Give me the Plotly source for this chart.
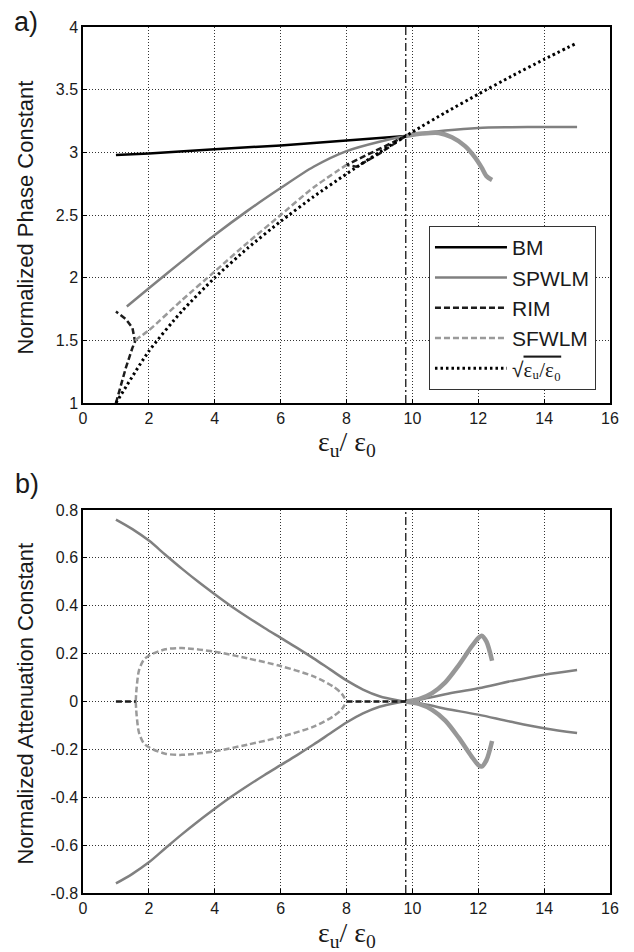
import plotly.graph_objects as go

# ---------------- data ----------------
x_ticks = [0, 2, 4, 6, 8, 10, 12, 14, 16]
phase_ticks = [1, 1.5, 2, 2.5, 3, 3.5, 4]
att_ticks = [-0.8, -0.6, -0.4, -0.2, 0, 0.2, 0.4, 0.6, 0.8]
att_tick_text = ["-0.8", "-0.6", "-0.4", "-0.2", "0", "0.2", "0.4", "0.6", "0.8"]

eps_cut = 9.8  # vertical dash-dot marker

# (a) Normalized phase constant
bm_x = [1.0, 2.0, 4.0, 6.0, 8.0, 9.8]
bm_y = [2.978, 2.99, 3.025, 3.055, 3.095, 3.13]

spwlm_x = [1.33, 2, 3, 4, 5, 6, 7, 8, 9, 9.8, 10.5, 11, 12, 13, 14, 15]
spwlm_y = [1.77, 1.915, 2.13, 2.34, 2.535, 2.715, 2.885, 3.01, 3.085, 3.13, 3.16, 3.175, 3.195, 3.2, 3.202, 3.202]

spwlm_b_x = [9.8, 10.3, 10.8, 11.2, 11.6, 11.9, 12.1, 12.25, 12.42]
spwlm_b_y = [3.13, 3.15, 3.155, 3.12, 3.05, 2.96, 2.88, 2.81, 2.78]

rim_x = [1.0, 1.3, 1.5, 1.58, 1.5, 1.3, 1.0, None, 9.8, 9.0, 8.0, 8.3, 9.0, 9.8]
rim_y = [1.0, 1.28, 1.44, 1.49, 1.6, 1.67, 1.73, None, 3.13, 3.03, 2.9, 2.885, 2.99, 3.13]

sfwlm_x = [1.58, 2, 3, 4, 5, 6, 7, 8]
sfwlm_y = [1.5, 1.58, 1.82, 2.05, 2.28, 2.5, 2.72, 2.9]

sqrt_x = [1, 2, 3, 4, 5, 6, 7, 8, 9, 10, 11, 12, 13, 14, 15]
sqrt_y = [1.0, 1.414, 1.732, 2.0, 2.236, 2.449, 2.646, 2.828, 3.0, 3.162, 3.317, 3.464, 3.606, 3.742, 3.873]

# (b) Normalized attenuation constant
spwlm_att_x = [1, 1.5, 2, 2.5, 3, 3.5, 4, 4.5, 5, 5.5, 6, 6.5, 7, 7.5, 8, 8.5, 9, 9.5, 9.8,
               10.5, 11, 12, 13, 14, 15]
spwlm_att_up = [0.76, 0.72, 0.672, 0.613, 0.555, 0.5, 0.448, 0.398, 0.352, 0.308, 0.266, 0.224,
                0.18, 0.134, 0.088, 0.05, 0.022, 0.006, 0.0,
                0.015, 0.03, 0.055, 0.085, 0.112, 0.132]
spwlm_att_lo = [-0.76, -0.72, -0.672, -0.613, -0.555, -0.5, -0.448, -0.398, -0.352, -0.308, -0.266,
                -0.224, -0.18, -0.134, -0.088, -0.05, -0.022, -0.006, 0.0,
                -0.015, -0.03, -0.055, -0.085, -0.112, -0.132]

spwlm_b_att_x = [9.8, 10.2, 10.6, 11.0, 11.4, 11.8, 12.0, 12.1, 12.25, 12.42]
spwlm_b_att_up = [0.0, 0.01, 0.035, 0.08, 0.15, 0.23, 0.265, 0.275, 0.25, 0.17]
spwlm_b_att_lo = [0.0, -0.01, -0.035, -0.08, -0.15, -0.23, -0.265, -0.272, -0.245, -0.165]

sfwlm_att_x = [1.6, 1.63, 1.7, 1.85, 2.05, 2.5, 3, 4, 5, 6, 7, 7.6, 7.86, 8.0]
sfwlm_att_up = [0.0, 0.06, 0.13, 0.175, 0.195, 0.218, 0.223, 0.208, 0.18, 0.148, 0.105, 0.062, 0.032, 0.0]
sfwlm_att_lo = [0.0, -0.06, -0.13, -0.175, -0.195, -0.218, -0.223, -0.208, -0.18, -0.148, -0.105, -0.062, -0.032, 0.0]

rim_att_x = [1.0, 1.6, None, 8.0, 9.8]
rim_att_y = [0.0, 0.0, None, 0.0, 0.0]

# ---------------- styles ----------------
C_BM = "#000000"
C_SP = "#808080"
C_SPB = "#979797"
C_RIM = "#1c1c1c"
C_SF = "#9a9a9a"
DASH = "6px,3px"
DOT = "2.5px,3px"
DASHDOT = "8px,3px,2px,3px"

SANS = "Liberation Sans, Arial, sans-serif"
SERIF = "Liberation Serif, Times New Roman, serif"


def join(xs_list, ys_list):
    xo, yo = [], []
    for i, (a, b) in enumerate(zip(xs_list, ys_list)):
        if i:
            xo.append(None)
            yo.append(None)
        xo += list(a)
        yo += list(b)
    return xo, yo


SQRT_NAME = ("√<span style=\"text-decoration:overline;font-family:Liberation Serif, DejaVu Serif\">"
             "εᵤ/ε₀</span>")

fig = go.Figure()

# ---- panel a (legend order: BM, SPWLM, RIM, SFWLM, sqrt) ----
fig.add_trace(go.Scatter(x=bm_x, y=bm_y, mode="lines", name="BM",
                         line=dict(color=C_BM, width=2.5), xaxis="x", yaxis="y"))
fig.add_trace(go.Scatter(x=spwlm_x, y=spwlm_y, mode="lines", name="SPWLM",
                         line=dict(color=C_SP, width=2.5, shape="spline", smoothing=0.8),
                         xaxis="x", yaxis="y"))
fig.add_trace(go.Scatter(x=spwlm_b_x, y=spwlm_b_y, mode="lines", name="SPWLM", showlegend=False,
                         line=dict(color=C_SPB, width=4.5, shape="spline", smoothing=0.8),
                         xaxis="x", yaxis="y"))
fig.add_trace(go.Scatter(x=rim_x, y=rim_y, mode="lines", name="RIM",
                         line=dict(color=C_RIM, width=2.5, dash=DASH), xaxis="x", yaxis="y"))
fig.add_trace(go.Scatter(x=sfwlm_x, y=sfwlm_y, mode="lines", name="SFWLM",
                         line=dict(color=C_SF, width=2.5, dash=DASH, shape="spline", smoothing=0.6),
                         xaxis="x", yaxis="y"))
fig.add_trace(go.Scatter(x=sqrt_x, y=sqrt_y, mode="lines", name=SQRT_NAME,
                         line=dict(color="#000000", width=3, dash=DOT, shape="spline", smoothing=0.6),
                         xaxis="x", yaxis="y"))
fig.add_trace(go.Scatter(x=[eps_cut, eps_cut], y=[phase_ticks[0], phase_ticks[-1]], mode="lines",
                         showlegend=False, line=dict(color="#000000", width=1.2, dash=DASHDOT),
                         xaxis="x", yaxis="y"))

# ---- panel b ----
sx, sy = join([spwlm_att_x, spwlm_att_x], [spwlm_att_up, spwlm_att_lo])
fig.add_trace(go.Scatter(x=sx, y=sy, mode="lines", showlegend=False,
                         line=dict(color=C_SP, width=2.5, shape="spline", smoothing=1.0),
                         xaxis="x2", yaxis="y2"))
bx, by = join([spwlm_b_att_x, spwlm_b_att_x], [spwlm_b_att_up, spwlm_b_att_lo])
fig.add_trace(go.Scatter(x=bx, y=by, mode="lines", showlegend=False,
                         line=dict(color=C_SPB, width=4.5, shape="spline", smoothing=0.8),
                         xaxis="x2", yaxis="y2"))
fx, fy = join([sfwlm_att_x, sfwlm_att_x], [sfwlm_att_up, sfwlm_att_lo])
fig.add_trace(go.Scatter(x=fx, y=fy, mode="lines", showlegend=False,
                         line=dict(color=C_SF, width=2.5, dash=DASH, shape="spline", smoothing=0.8),
                         xaxis="x2", yaxis="y2"))
fig.add_trace(go.Scatter(x=rim_att_x, y=rim_att_y, mode="lines", showlegend=False,
                         line=dict(color=C_RIM, width=2.5, dash=DASH), xaxis="x2", yaxis="y2"))
fig.add_trace(go.Scatter(x=[eps_cut, eps_cut], y=[att_ticks[0], att_ticks[-1]], mode="lines",
                         showlegend=False, line=dict(color="#000000", width=1.2, dash=DASHDOT),
                         xaxis="x2", yaxis="y2"))

axis_common = dict(
    showline=True, linecolor="#000000", linewidth=1.5, mirror=True,
    showgrid=True, gridcolor="#333333", griddash="1px,2px", gridwidth=1,
    zeroline=False, ticks="inside", ticklen=4, tickcolor="#000000",
    tickfont=dict(family=SANS, size=16, color="#1a1a1a"),
)

# page body has an 8px margin, so the figure is 8px smaller than the window on each axis
fig.update_layout(
    width=626, height=944,
    margin=dict(l=75, r=24, t=19, b=59),
    paper_bgcolor="white", plot_bgcolor="white",
    font=dict(family=SANS, color="#1a1a1a"),
    showlegend=True,
    xaxis=dict(domain=[0, 1], range=[0, 16], tickvals=x_ticks, anchor="y", **axis_common),
    yaxis=dict(domain=[0.5658, 1], range=[1, 4], tickvals=phase_ticks, anchor="x", **axis_common),
    xaxis2=dict(domain=[0, 1], range=[0, 16], tickvals=x_ticks, anchor="y2", **axis_common),
    yaxis2=dict(domain=[0, 0.4423], range=[-0.8, 0.8], tickvals=att_ticks, ticktext=att_tick_text,
                anchor="x2", **axis_common),
    legend=dict(x=0.6565, y=0.7702, xanchor="left", yanchor="top",
                bgcolor="white", bordercolor="#333333", borderwidth=1,
                font=dict(family=SANS, size=21, color="#1a1a1a"),
                itemwidth=72, tracegroupgap=0),
    annotations=[
        dict(text="a)", x=-0.135, y=1.006, xref="paper", yref="paper", xanchor="left",
             yanchor="middle", showarrow=False, font=dict(family=SANS, size=27)),
        dict(text="b)", x=-0.133, y=0.4723, xref="paper", yref="paper", xanchor="left",
             yanchor="middle", showarrow=False, font=dict(family=SANS, size=27)),
        dict(text="Normalized Phase Constant", textangle=-90, x=-0.1091, y=0.7794,
             xref="paper", yref="paper", xanchor="center", yanchor="middle", showarrow=False,
             font=dict(family=SANS, size=22)),
        dict(text="Normalized Attenuation Constant", textangle=-90, x=-0.1091, y=0.2182,
             xref="paper", yref="paper", xanchor="center", yanchor="middle", showarrow=False,
             font=dict(family=SANS, size=22)),
        dict(text="ε<sub>u</sub>/ ε<sub>0</sub>", x=0.5, y=0.5658, xref="paper", yref="paper",
             xanchor="center", yanchor="top", yshift=-21, showarrow=False,
             font=dict(family=SERIF, size=28)),
        dict(text="ε<sub>u</sub>/ ε<sub>0</sub>", x=0.5, y=0.0, xref="paper", yref="paper",
             xanchor="center", yanchor="top", yshift=-22, showarrow=False,
             font=dict(family=SERIF, size=28)),
    ],
)

fig.write_html("out.html")
